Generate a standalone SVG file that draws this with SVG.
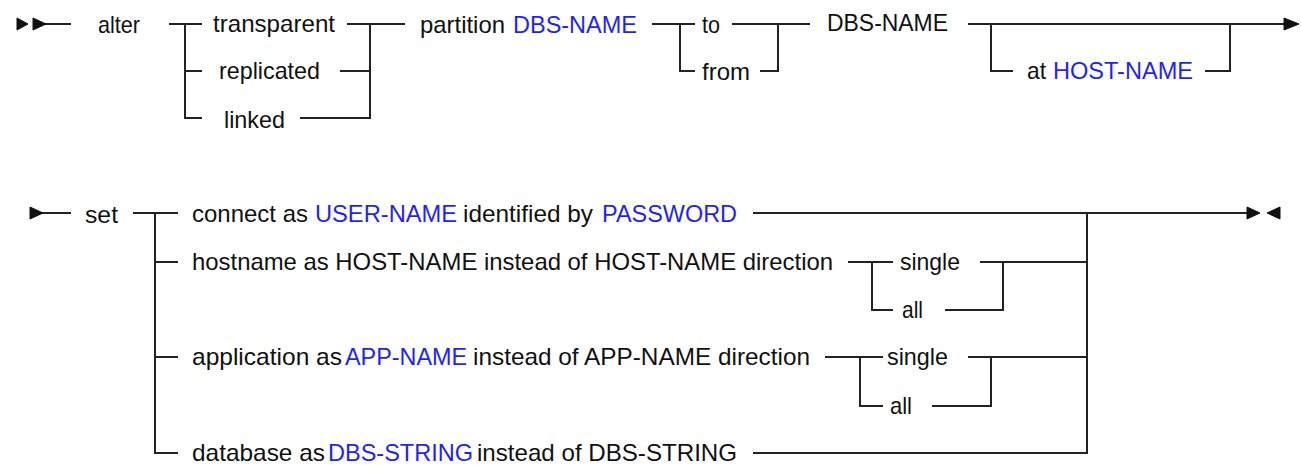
<svg xmlns="http://www.w3.org/2000/svg" width="1301" height="465" viewBox="0 0 1301 465">
<style>
text{font-family:"Liberation Sans",Arial,sans-serif;font-size:24px;fill:#111}
.v{fill:#1f1fff}
.ln{stroke:#222;stroke-width:2;fill:none}
.ah{fill:#111;stroke:#111;stroke-width:1;stroke-linejoin:round}
</style>
<rect width="1301" height="465" fill="#fff"/>
<g id="connectors">
<path class="ln" d="M40 24H71 M169 24H202 M185 24V118H202 M185 71H202 M347 24H405 M370 24V118H300 M340 71H370 M652 24H695 M680 24V71H695 M732 24H810 M778 24V71H760 M968 24H1284 M991 24V71H1013 M1205 71H1230V24"/>
<path class="ln" d="M40 213H71 M133 213H178 M155 213V453H178 M155 262H178 M155 357H178 M753 213H1248 M1087 213V453H753 M848 262H893 M872 262V310H893 M980 262H1087 M1003 262V310H945 M825 357H883 M860 357V406H883 M968 357H1087 M991 357V406H932"/>
<path class="ah" d="M17 18L28 24L17 30Z M33 18L46 24L33 30Z"/>
<path class="ah" d="M1284 18L1299 24L1284 30Z"/>
<path class="ah" d="M30 207L43 213L30 219Z"/>
<path class="ah" d="M1247 207L1260 213L1247 219Z M1280 207L1267 213L1280 219Z"/>
</g>
<g id="n-alter"><text x="98" y="33" textLength="42" lengthAdjust="spacingAndGlyphs">alter</text></g>
<g id="n-transparent"><text x="213" y="32" textLength="122" lengthAdjust="spacingAndGlyphs">transparent</text></g>
<g id="n-replicated"><text x="219" y="79" textLength="101" lengthAdjust="spacingAndGlyphs">replicated</text></g>
<g id="n-linked"><text x="224" y="128" textLength="61" lengthAdjust="spacingAndGlyphs">linked</text></g>
<g id="n-partition"><text x="420" y="33" textLength="85" lengthAdjust="spacingAndGlyphs">partition</text><text class="v" x="513" y="33" textLength="124" lengthAdjust="spacingAndGlyphs">DBS-NAME</text></g>
<g id="n-to"><text x="702" y="33" textLength="18" lengthAdjust="spacingAndGlyphs">to</text></g>
<g id="n-from"><text x="702" y="80" textLength="48" lengthAdjust="spacingAndGlyphs">from</text></g>
<g id="n-dbsname"><text x="827" y="31" textLength="121" lengthAdjust="spacingAndGlyphs">DBS-NAME</text></g>
<g id="n-at"><text x="1027" y="79" textLength="19" lengthAdjust="spacingAndGlyphs">at</text><text class="v" x="1053" y="79" textLength="140" lengthAdjust="spacingAndGlyphs">HOST-NAME</text></g>
<g id="n-set"><text x="85" y="223" textLength="33" lengthAdjust="spacingAndGlyphs">set</text></g>
<g id="n-connect"><text x="192" y="222" textLength="116" lengthAdjust="spacingAndGlyphs">connect as</text><text class="v" x="315" y="222" textLength="142" lengthAdjust="spacingAndGlyphs">USER-NAME</text><text x="463" y="222" textLength="130" lengthAdjust="spacingAndGlyphs">identified by</text><text class="v" x="602" y="222" textLength="135" lengthAdjust="spacingAndGlyphs">PASSWORD</text></g>
<g id="n-hostname"><text x="192" y="270" textLength="641" lengthAdjust="spacingAndGlyphs">hostname as HOST-NAME instead of HOST-NAME direction</text></g>
<g id="n-single1"><text x="900" y="270" textLength="60" lengthAdjust="spacingAndGlyphs">single</text></g>
<g id="n-all1"><text x="902" y="318" textLength="21" lengthAdjust="spacingAndGlyphs">all</text></g>
<g id="n-application"><text x="192" y="365" textLength="150" lengthAdjust="spacingAndGlyphs">application as</text><text class="v" x="345" y="365" textLength="122" lengthAdjust="spacingAndGlyphs">APP-NAME</text><text x="473" y="365" textLength="337" lengthAdjust="spacingAndGlyphs">instead of APP-NAME direction</text></g>
<g id="n-single2"><text x="887" y="365" textLength="61" lengthAdjust="spacingAndGlyphs">single</text></g>
<g id="n-all2"><text x="890" y="414" textLength="22" lengthAdjust="spacingAndGlyphs">all</text></g>
<g id="n-database"><text x="192" y="461" textLength="133" lengthAdjust="spacingAndGlyphs">database as</text><text class="v" x="328" y="461" textLength="145" lengthAdjust="spacingAndGlyphs">DBS-STRING</text><text x="477" y="461" textLength="260" lengthAdjust="spacingAndGlyphs">instead of DBS-STRING</text></g>
</svg>
